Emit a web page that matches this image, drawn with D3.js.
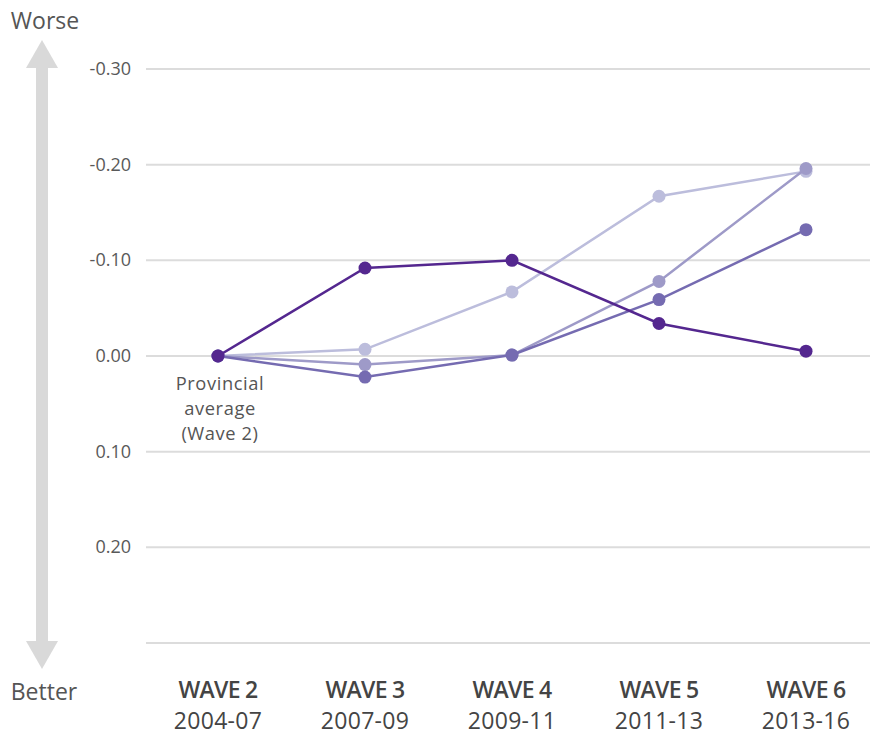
<!DOCTYPE html>
<html lang="en">
  <head>
    <meta charset="UTF-8" />
    <title>waves</title>
    <style>
      body {
        margin: 0;
        font-family: "Open Sans", sans-serif;
      }
      svg {
        display: block;
      }
      .tick-label {
        font-size: 18px;
        fill: #595959;
        text-anchor: end;
      }
      .wave-label {
        font-size: 23px;
        font-weight: 600;
        fill: #444;
        text-anchor: middle;
        letter-spacing: -0.7px;
      }
      .year-label {
        font-size: 23px;
        fill: #444;
        text-anchor: middle;
        letter-spacing: 0.3px;
      }
      .side-label {
        font-size: 23px;
        fill: #555;
        text-anchor: middle;
      }
      .note {
        font-size: 18.3px;
        fill: #555;
        text-anchor: middle;
        letter-spacing: 0.6px;
      }
    </style>
  </head>
  <body>
    <script src="https://cdn.jsdelivr.net/npm/d3@7"></script>
    <script>
      const waves = ["WAVE 2", "WAVE 3", "WAVE 4", "WAVE 5", "WAVE 6"];
      const years = ["2004-07", "2007-09", "2009-11", "2011-13", "2013-16"];

      // drawn in this order (lightest first)
      const seriesLight = [0, -0.007, -0.067, -0.167, -0.193];
      const seriesMidLight = [0, 0.009, -0.001, -0.078, -0.196];
      const seriesMid = [0, 0.022, -0.001, -0.059, -0.132];
      const seriesDark = [0, -0.092, -0.100, -0.034, -0.005];

      const gridValues = [-0.3, -0.2, -0.1, 0, 0.1, 0.2, 0.3];
      const tickLabels = ["-0.30", "-0.20", "-0.10", "0.00", "0.10", "0.20", ""];

      const series = [
        { values: seriesLight, color: "#bcbddc" },
        { values: seriesMidLight, color: "#9e9ac8" },
        { values: seriesMid, color: "#756bb1" },
        { values: seriesDark, color: "#54278f" }
      ];

      const width = 870;
      const height = 736;

      const svg = d3.select("body").append("svg")
        .attr("width", width)
        .attr("height", height);

      const x = d3.scalePoint().domain(waves).range([218, 806]);
      const y = d3.scaleLinear().domain([-0.3, 0.3]).range([69, 643]);

      // gridlines
      svg.append("g")
        .selectAll("line")
        .data(gridValues)
        .join("line")
        .attr("x1", 146)
        .attr("x2", width)
        .attr("y1", d => y(d))
        .attr("y2", d => y(d))
        .attr("stroke", "#dcdcdc")
        .attr("stroke-width", 2);

      svg.append("g")
        .selectAll("text")
        .data(gridValues)
        .join("text")
        .attr("class", "tick-label")
        .attr("x", 131)
        .attr("y", d => y(d) + 6)
        .text((d, i) => tickLabels[i]);

      // worse / better arrow
      const arrow = svg.append("g").attr("fill", "#d9d9d9");
      arrow.append("rect").attr("x", 36).attr("y", 62).attr("width", 12).attr("height", 582);
      arrow.append("path").attr("d", "M42,40 L58,68 L26,68 Z");
      arrow.append("path").attr("d", "M42,669 L58,641 L26,641 Z");
      svg.append("text").attr("class", "side-label").attr("x", 45).attr("y", 29).text("Worse");
      svg.append("text").attr("class", "side-label").attr("x", 44).attr("y", 700).text("Better");

      // x labels
      svg.append("g")
        .selectAll("text")
        .data(waves)
        .join("text")
        .attr("class", "wave-label")
        .attr("x", d => x(d))
        .attr("y", 698)
        .text(d => d);
      svg.append("g")
        .selectAll("text")
        .data(years)
        .join("text")
        .attr("class", "year-label")
        .attr("x", (d, i) => x(waves[i]))
        .attr("y", 729)
        .text(d => d);

      // lines and dots
      const line = d3.line()
        .x((d, i) => x(waves[i]))
        .y(d => y(d));

      series.forEach(s => {
        const g = svg.append("g");
        g.append("path")
          .attr("d", line(s.values))
          .attr("fill", "none")
          .attr("stroke", s.color)
          .attr("stroke-width", 2.5);
        g.selectAll("circle")
          .data(s.values)
          .join("circle")
          .attr("cx", (d, i) => x(waves[i]))
          .attr("cy", d => y(d))
          .attr("r", 6.5)
          .attr("fill", s.color);
      });

      // note
      const note = svg.append("text").attr("class", "note").attr("x", 220).attr("y", 390);
      ["Provincial", "average", "(Wave 2)"].forEach((t, i) => {
        note.append("tspan").attr("x", 220).attr("dy", i === 0 ? 0 : 25).text(t);
      });
    </script>
  </body>
</html>
